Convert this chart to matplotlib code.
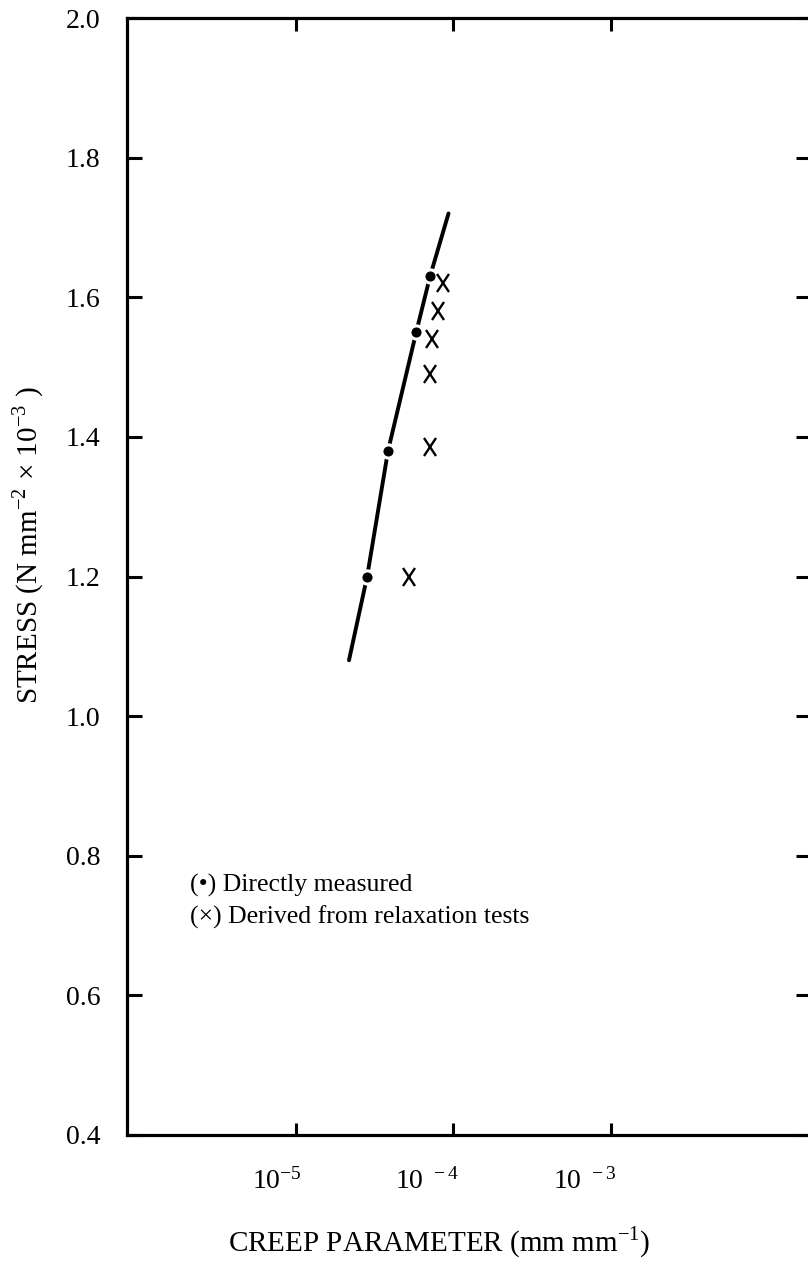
import matplotlib
matplotlib.use("Agg")
import matplotlib.pyplot as plt
from matplotlib.ticker import FixedLocator, FixedFormatter
from matplotlib.markers import MarkerStyle
from matplotlib.transforms import Affine2D, ScaledTranslation
import numpy as np

plt.rcParams['font.family'] = ['Liberation Serif', 'DejaVu Serif']
plt.rcParams['mathtext.fontset'] = 'custom'
plt.rcParams['mathtext.rm'] = 'Liberation Serif'

# directly measured creep parameter (mm/mm) vs stress
meas_x = [2.83e-5, 3.84e-5, 5.8e-5, 7.1e-5]
meas_y = [1.20, 1.38, 1.55, 1.63]

# values derived from relaxation tests
relax_x = [5.2e-5, 7.1e-5, 7.1e-5, 7.3e-5, 8.0e-5, 8.6e-5]
relax_y = [1.20, 1.385, 1.49, 1.54, 1.58, 1.62]

# fitted curve through the measured points
fit_x = [2.17e-5, 2.83e-5, 3.84e-5, 5.8e-5, 7.1e-5, 9.3e-5]
fit_y = [1.08, 1.20, 1.38, 1.55, 1.63, 1.72]

x_ticks = [1e-5, 1e-4, 1e-3]
x_ticklabels = ['$\\mathregular{10^{-5}}$', '$\\mathregular{10^{\\ -4}}$', '$\\mathregular{10^{\\ -3}}$']
y_ticks = [0.4, 0.6, 0.8, 1.0, 1.2, 1.4, 1.6, 1.8, 2.0]

W, H = 808, 1261
fig = plt.figure(figsize=(W / 100, H / 100), dpi=100)
x0, x1 = 127, 811
y0, y1 = 1135, 18
ax = fig.add_axes([x0 / W, 1 - y0 / H, (x1 - x0) / W, (y0 - y1) / H])

ax.set_xscale('log')
ax.set_xlim(10 ** -6.073, 10 ** -1.73)
ax.set_ylim(0.4, 2.0)

ax.plot(fit_x, fit_y, color='black', lw=2.8, solid_capstyle='round', zorder=2)
ax.plot(meas_x, meas_y, 'o', color='black', ms=9.5, mec='white', mew=2.2, zorder=3)
# tall, narrow crosses like a typed letter X
xmark = MarkerStyle('x', transform=Affine2D().scale(0.8, 1.15))
ax.plot(relax_x, relax_y, ls='none', marker=xmark, color='black', ms=11, mew=1.7, zorder=3)

ax.xaxis.set_major_locator(FixedLocator(x_ticks))
ax.xaxis.set_major_formatter(FixedFormatter(x_ticklabels))
ax.xaxis.set_minor_locator(FixedLocator([]))
ax.set_yticks(y_ticks)
ax.set_yticklabels(['%.1f' % v for v in y_ticks])

for sp in ax.spines.values():
    sp.set_linewidth(2.3)
ax.tick_params(axis='both', which='major', direction='in', width=2.2,
               top=True, right=True, labelsize=20)
ax.tick_params(axis='y', length=11, pad=19)
ax.tick_params(axis='x', length=9, pad=24)

# exponent sits over the tick, so anchor the labels by their right edge
for lab in ax.get_xticklabels():
    lab.set_horizontalalignment('right')
    lab.set_transform(lab.get_transform() + ScaledTranslation(4 / 72, 0, fig.dpi_scale_trans))

ax.set_ylabel('STRESS (N mm$^{\\mathregular{-2}}$ \u00d7 10$^{\\mathregular{-3}}$ )', fontsize=21)
ax.yaxis.set_label_coords(-0.118, 0.528)
ax.set_xlabel('CREEP PARAMETER (mm mm$^{\\mathregular{-1}}$)', fontsize=21)
ax.xaxis.set_label_coords(0.456, -0.08)

ax.text(10 ** -5.67, 0.758, '(\u2022) Directly measured', fontsize=18.5, va='center')
ax.text(10 ** -5.67, 0.712, '(\u00d7) Derived from relaxation tests', fontsize=18.5, va='center')

fig.savefig('out.png', dpi=100)
